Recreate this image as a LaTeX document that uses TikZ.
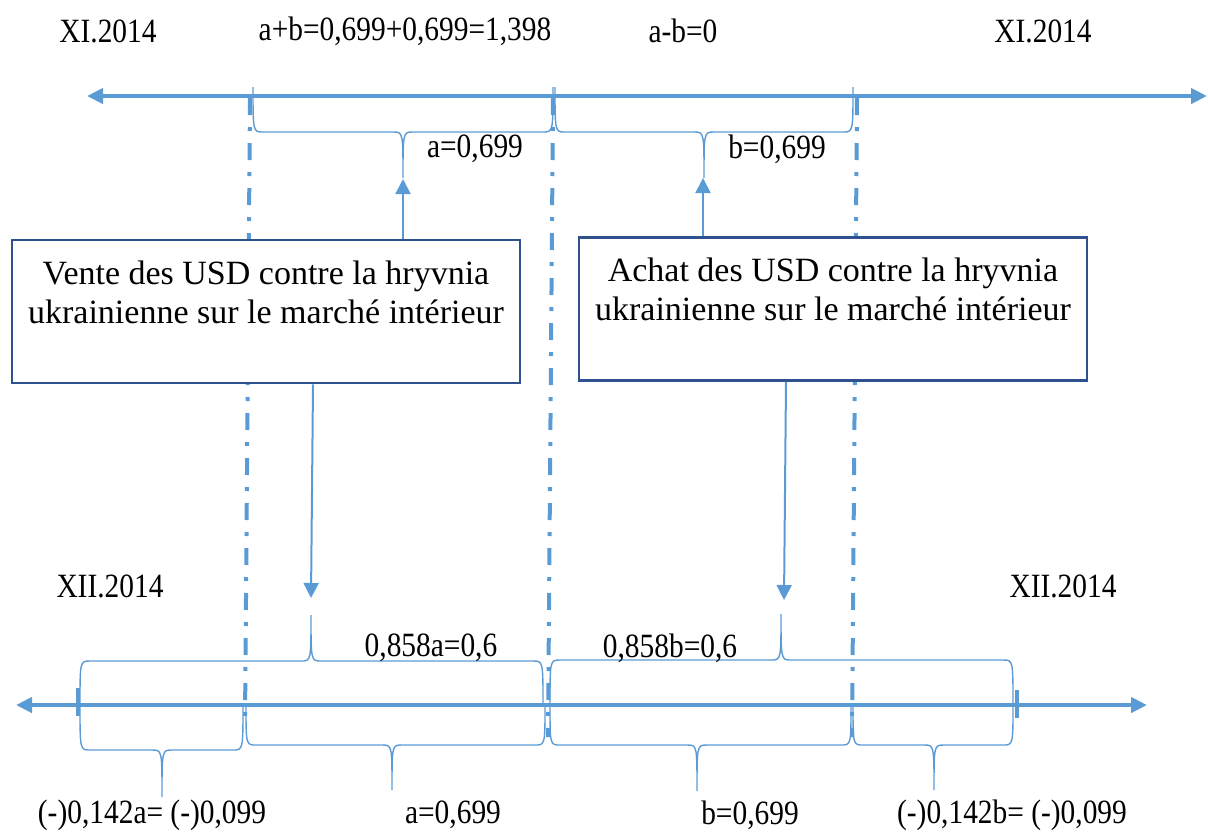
\documentclass[tikz,border=0pt]{standalone}
\usepackage{fontspec}
\setmainfont{Liberation Serif}[FakeStretch=0.865]
\newfontfamily\boxfont{Liberation Serif}
\usetikzlibrary{arrows.meta}
\definecolor{axisblue}{HTML}{5B9BD5}
\definecolor{boxblue}{HTML}{2F528F}
\tikzset{
    axis/.style   = {axisblue, line width=2pt, {Triangle[length=8pt,width=7.5pt]}-{Triangle[length=8pt,width=7.5pt]}},
    guide/.style  = {axisblue, line width=2pt, dash pattern=on 8.5pt off 6pt on 2pt off 6pt},
    curly/.style  = {axisblue, line width=0.7pt},
    marker/.style = {axisblue, line width=1pt, -{Triangle[length=7.5pt,width=7.5pt]}},
    txt/.style    = {font=\fontsize{17}{19.5}\selectfont, inner sep=0pt},
    card/.style   = {draw=boxblue, line width=1.3pt, font=\boxfont\fontsize{17}{19.5}\selectfont,
                     inner sep=0pt, align=center, minimum width=254pt, minimum height=71.5pt}
}
% brace: left x, tip x, right x, end y, bar y, tip y
\newcommand{\curly}[6]{%
    \draw[curly] (#1,#4) .. controls (#1,#5) .. (#1+10,#5) -- (#2-10,#5)
        .. controls (#2,#5) .. (#2,#6) .. controls (#2,#5) .. (#2+10,#5)
        -- (#3-10,#5) .. controls (#3,#5) .. (#3,#4);}

\begin{document}
\begin{tikzpicture}[x=0.5pt, y=-0.5pt]
    \useasboundingbox (0,0) rectangle (1208,832);
    % braces
    \curly{253}{403}{553}{87}{132}{178}
    \curly{555}{704}{853}{87}{132}{178}
    \curly{80}{311}{543}{705}{661}{615}
    \curly{550}{781}{1013}{705}{660}{614}
    \curly{80}{162}{243}{705}{750}{797}
    \curly{246}{392}{545}{705}{745}{790}
    \curly{550}{697}{851}{705}{745}{791}
    \curly{853}{934}{1013}{705}{745}{790}
    % axes
    \coordinate (tl) at (87,96);
    \coordinate (tr) at (1207,96);
    \coordinate (bl) at (16,705);
    \coordinate (br) at (1147,705);
    \draw[axis] (tl) -- (tr);
    \draw[axis] (bl) -- (br);
    \draw[axisblue, line width=2pt] (78,688) -- (78,716);
    \draw[axisblue, line width=2pt] (1017,690) -- (1017,718);
    % guides
    \draw[guide] (250,98) -- (245,722);
    \draw[guide] (553,98) -- (548,737);
    \draw[guide] (857,98) -- (852,737);
    % boxes
    \node[card, fill=white] (vente) at (266,311.5) {Vente des USD contre la hryvnia\\ukrainienne sur le march\'e int\'erieur\\~};
    \node[card, fill=white] (achat) at (833,309) {Achat des USD contre la hryvnia\\ukrainienne sur le march\'e int\'erieur\\~};
    % arrows
    \coordinate (ta) at (403,179);
    \coordinate (tb) at (703,178);
    \coordinate (da) at (311,598);
    \coordinate (db) at (784,600);
    \draw[marker] (ta |- vente.north) -- (ta);
    \draw[marker] (tb |- achat.north) -- (tb);
    \draw[marker] ([xshift=23.5pt]vente.south) -- (da);
    \draw[marker] ([xshift=-23.5pt]achat.south) -- (db);
    % labels
    \node[txt] (xi1) at (108,31) {XI.2014};
    \node[txt] (sum) at (405,31) {a+b=0,699+0,699=1,398};
    \node[txt] (dif) at (683,31) {a-b=0};
    \node[txt] (xi2) at (1043,31) {XI.2014};
    \node[txt] (la) at (475,149) {a=0,699};
    \node[txt] (lb) at (777,149) {b=0,699};
    \node[txt] (xii1) at (110,586) {XII.2014};
    \node[txt] (xii2) at (1063,586) {XII.2014};
    \node[txt] (pa) at (431,648) {0,858a=0,6};
    \node[txt] (pb) at (670,648) {0,858b=0,6};
    \node[txt] (ma) at (152,815) {(-)0,142a= (-)0,099};
    \node[txt] (qa) at (453,815) {a=0,699};
    \node[txt] (qb) at (750,815) {b=0,699};
    \node[txt] (mb) at (1012,815) {(-)0,142b= (-)0,099};
\end{tikzpicture}
\end{document}
